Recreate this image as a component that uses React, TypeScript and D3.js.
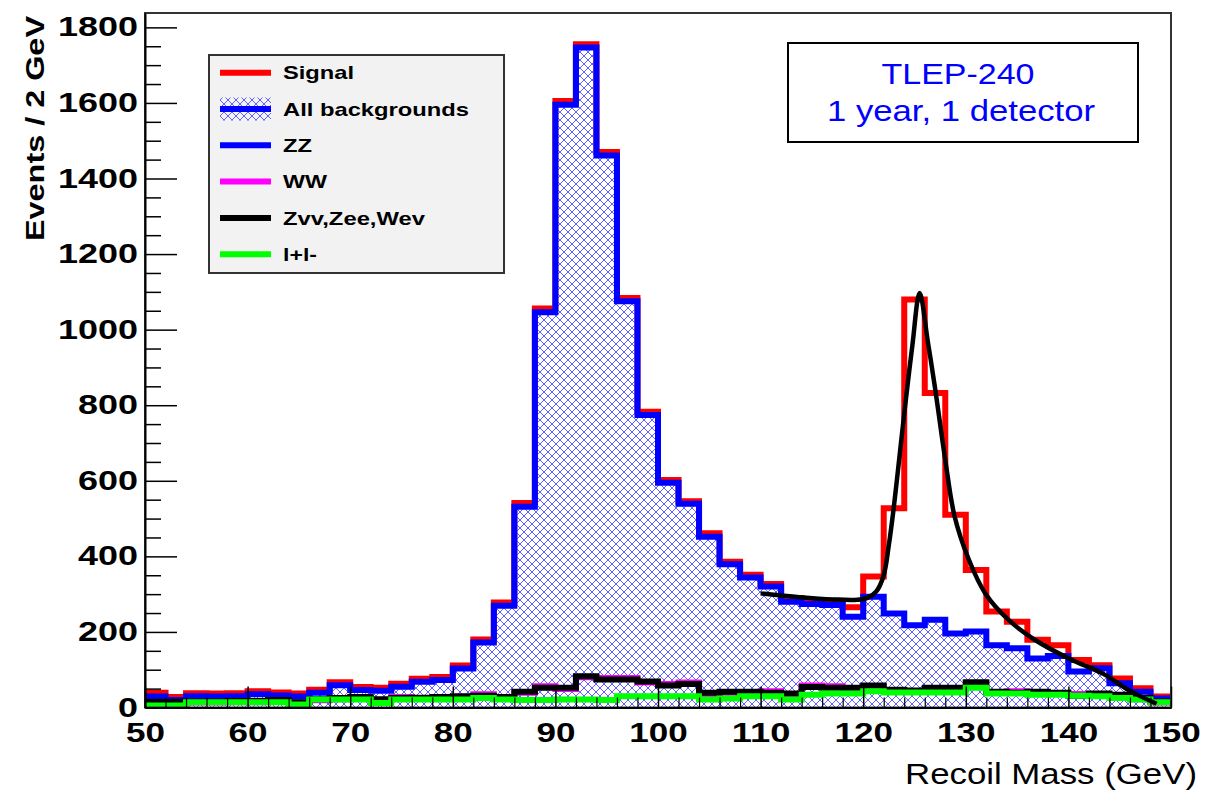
import { useRef, useEffect } from "react";
import * as d3 from "d3";

// 2 GeV bins, low edges
const binLow = [50, 52, 54, 56, 58, 60, 62, 64, 66, 68, 70, 72, 74, 76, 78, 80, 82, 84, 86, 88,
  90, 92, 94, 96, 98, 100, 102, 104, 106, 108, 110, 112, 114, 116, 118, 120, 122, 124, 126, 128,
  130, 132, 134, 136, 138, 140, 142, 144, 146, 148];

// red: signal stacked on all backgrounds
const signalTotal = [39, 28, 38, 37, 38, 43, 40, 37, 47, 67, 54, 52, 63, 76, 81, 111, 180, 278, 541, 1056,
  1605, 1755, 1470, 1084, 783, 602, 546, 461, 386, 351, 327, 290, 283, 280, 265, 347, 527, 1080, 832, 510,
  364, 254, 227, 179, 165, 126, 112, 77, 51, 29];

// blue: all backgrounds (hatched)
const allBackgrounds = [29, 20, 30, 29, 30, 35, 32, 29, 39, 59, 46, 44, 55, 68, 73, 103, 172, 269, 531, 1046,
  1595, 1747, 1461, 1075, 774, 595, 539, 452, 379, 344, 320, 280, 274, 271, 240, 293, 249, 218, 232, 196,
  201, 165, 157, 130, 136, 95, 104, 64, 42, 24];

// magenta, black, green (small backgrounds, cumulative)
const wwStack = [12, 12, 13, 13, 14, 14, 17, 11, 19, 22, 25, 19, 28, 23, 25, 27, 35, 25, 39, 56,
  49, 80, 78, 78, 66, 62, 66, 36, 39, 39, 43, 34, 58, 56, 49, 55, 44, 42, 49, 49,
  64, 39, 43, 39, 36, 36, 34, 31, 22, 13];
const zvvStack = [15, 15, 16, 16, 17, 17, 20, 14, 22, 25, 28, 22, 25, 26, 28, 30, 31, 28, 42, 52,
  52, 83, 74, 74, 69, 58, 62, 39, 42, 42, 39, 37, 54, 52, 52, 58, 47, 45, 52, 52,
  67, 42, 39, 42, 39, 31, 37, 34, 25, 16];
const llBkg = [5, 5, 14, 14, 14, 14, 14, 8, 21, 21, 21, 12, 21, 21, 21, 21, 25, 21, 20, 20,
  21, 21, 20, 30, 30, 30, 30, 21, 24, 30, 30, 21, 34, 37, 37, 43, 40, 40, 40, 40,
  52, 37, 37, 34, 34, 31, 30, 25, 21, 14];

// fitted curve
const fitMass = [110, 113.8, 117.1, 119.4, 120.4, 121.3, 122.0, 122.5, 123.0, 123.6, 124.1, 124.8, 125.5,
  126.3, 127.0, 128.0, 128.9, 130.3, 131.9, 134.2, 136.8, 140.1, 143.4, 146.0, 148.6];
const fitEvents = [302, 292, 286, 285, 290, 308, 350, 430, 534, 680, 801, 960, 1097,
  968, 846, 655, 507, 391, 302, 231, 178, 129, 89, 44, 10];

const yTicks = [0, 200, 400, 600, 800, 1000, 1200, 1400, 1600, 1800];
const xTicks = [50, 60, 70, 80, 90, 100, 110, 120, 130, 140, 150];

const legendItems = [
  { label: "Signal", color: "#ff0000", width: 71 },
  { label: "All backgrounds", color: "#0000ff", width: 186, hatch: true },
  { label: "ZZ", color: "#0000ff", width: 29 },
  { label: "WW", color: "#ff00ff", width: 44 },
  { label: "Zvv,Zee,Wev", color: "#000000", width: 142 },
  { label: "l+l-", color: "#00ff00", width: 34 },
];

const FONT = "'Liberation Sans', Arial, Helvetica, sans-serif";

const x = d3.scaleLinear().domain([50, 150]).range([145, 1171]);
const y = d3.scaleLinear().domain([0, 1838]).range([707.5, 13]);

const steps = (vals: number[]) => [
  ...vals.map((v, i) => [binLow[i], v] as [number, number]),
  [150, vals[vals.length - 1]] as [number, number],
];

const stepLine = d3.line<[number, number]>()
  .x(d => x(d[0]))
  .y(d => y(d[1]))
  .curve(d3.curveStepAfter);

const stepArea = d3.area<[number, number]>()
  .x(d => x(d[0]))
  .y0(y(0))
  .y1(d => y(d[1]))
  .curve(d3.curveStepAfter);

const fitLine = d3.line<number>()
  .x((d, i) => x(fitMass[i]))
  .y(d => y(d))
  .curve(d3.curveCatmullRom.alpha(0.5));

export default function App() {
  const svgRef = useRef<SVGSVGElement>(null);

  useEffect(() => {
    const svg = d3.select(svgRef.current);

    const styleLabels = (g: any, per: number) => {
      g.attr("font-family", FONT).attr("font-size", 27).attr("font-weight", "bold");
      g.selectAll("text")
        .attr("fill", "#000")
        .attr("textLength", (d: number) => String(d).length * per)
        .attr("lengthAdjust", "spacingAndGlyphs");
      g.select(".domain").attr("stroke", "#000").attr("stroke-width", 2);
      g.selectAll(".tick line").attr("stroke", "#000").attr("stroke-width", 1.5);
    };

    const yMinor = d3.range(50, 1838, 50).filter(v => v % 200 !== 0);
    svg.select<SVGGElement>(".y-minor")
      .attr("transform", `translate(${x(50)},0)`)
      .call(d3.axisLeft(y).tickValues(yMinor).tickSize(-16).tickSizeOuter(0).tickFormat(() => ""))
      .call((g: any) => { g.select(".domain").remove(); g.selectAll("line").attr("stroke", "#000").attr("stroke-width", 1.5); });
    const yAxis = d3.axisLeft(y).tickValues(yTicks).tickSize(-32).tickSizeOuter(0).tickPadding(7)
      .tickFormat(d3.format("d"));
    svg.select<SVGGElement>(".y-axis")
      .attr("transform", `translate(${x(50)},0)`)
      .call(yAxis)
      .call((g: any) => styleLabels(g, 20));

    const xMinor = d3.range(52, 150, 2).filter(v => v % 10 !== 0);
    svg.select<SVGGElement>(".x-minor")
      .attr("transform", `translate(0,${y(0)})`)
      .call(d3.axisBottom(x).tickValues(xMinor).tickSize(-10).tickSizeOuter(0).tickFormat(() => ""))
      .call((g: any) => { g.select(".domain").remove(); g.selectAll("line").attr("stroke", "#000").attr("stroke-width", 1.2); });
    const xAxis = d3.axisBottom(x).tickValues(xTicks).tickSize(-21).tickSizeOuter(0).tickPadding(15)
      .tickFormat(d3.format("d"));
    svg.select<SVGGElement>(".x-axis")
      .attr("transform", `translate(0,${y(0)})`)
      .call(xAxis)
      .call((g: any) => styleLabels(g, 19.5));
  }, []);

  return (
    <svg ref={svgRef} width={1207} height={794}
      style={{ position: "absolute", left: 0, top: 0, background: "#fff" }}>
      <defs>
        <pattern id="xhatch" width={8} height={8} patternUnits="userSpaceOnUse">
          <path d="M0,0L8,8M8,0L0,8" stroke="#5050ff" strokeWidth={0.9} />
        </pattern>
        <clipPath id="plotClip">
          <rect x={145} y={13} width={1026} height={698} />
        </clipPath>
      </defs>
      <rect width={1207} height={794} fill="#fff" />

      <g clipPath="url(#plotClip)" fill="none" strokeLinejoin="miter">
        <path d={stepLine(steps(signalTotal))!} stroke="#ff0000" strokeWidth={6} />
        <path d={stepArea(steps(allBackgrounds))!} fill="url(#xhatch)" stroke="none" />
        <path d={stepLine(steps(allBackgrounds))!} stroke="#0000ff" strokeWidth={6} />
        <path d={stepLine(steps(wwStack))!} stroke="#ff00ff" strokeWidth={6} />
        <path d={stepLine(steps(zvvStack))!} stroke="#000000" strokeWidth={6} />
        <path d={stepLine(steps(llBkg))!} stroke="#00ff00" strokeWidth={6} />
        <path d={fitLine(fitEvents)!} stroke="#000" strokeWidth={4.5} />
      </g>

      <rect x={145} y={13} width={1026} height={694.5} fill="none" stroke="#333" strokeWidth={2} />
      <g className="y-minor" />
      <g className="x-minor" />
      <g className="y-axis" />
      <g className="x-axis" />

      <text transform="translate(44,16) rotate(-90)" textAnchor="end" fontFamily={FONT}
        fontWeight="bold" fontSize={26} textLength={225} lengthAdjust="spacingAndGlyphs">Events / 2 GeV</text>
      <text x={1197} y={784} textAnchor="end" fontFamily={FONT} fontSize={30}
        textLength={292} lengthAdjust="spacingAndGlyphs">Recoil Mass (GeV)</text>

      <g>
        <rect x={209} y={55} width={295} height={218} fill="#f2f2f2" stroke="#333" strokeWidth={2} />
        {legendItems.map((item, i) => {
          const cy = 72.7 + i * 36.3;
          return (
            <g key={item.label}>
              {item.hatch && <rect x={220} y={cy - 11.5} width={51} height={23} fill="url(#xhatch)" />}
              <line x1={220} x2={271} y1={cy} y2={cy} stroke={item.color} strokeWidth={6} />
              <text x={283} y={cy + 6.7} fontFamily={FONT} fontWeight="bold" fontSize={19}
                textLength={item.width} lengthAdjust="spacingAndGlyphs">{item.label}</text>
            </g>
          );
        })}
      </g>

      <g>
        <rect x={788} y={43} width={350} height={99} fill="#fff" stroke="#000" strokeWidth={2} />
        <text x={958} y={84} textAnchor="middle" fontFamily={FONT} fontSize={30} fill="#0000ff"
          textLength={153} lengthAdjust="spacingAndGlyphs">TLEP-240</text>
        <text x={961} y={121} textAnchor="middle" fontFamily={FONT} fontSize={30} fill="#0000ff"
          textLength={268} lengthAdjust="spacingAndGlyphs">1 year, 1 detector</text>
      </g>
    </svg>
  );
}
